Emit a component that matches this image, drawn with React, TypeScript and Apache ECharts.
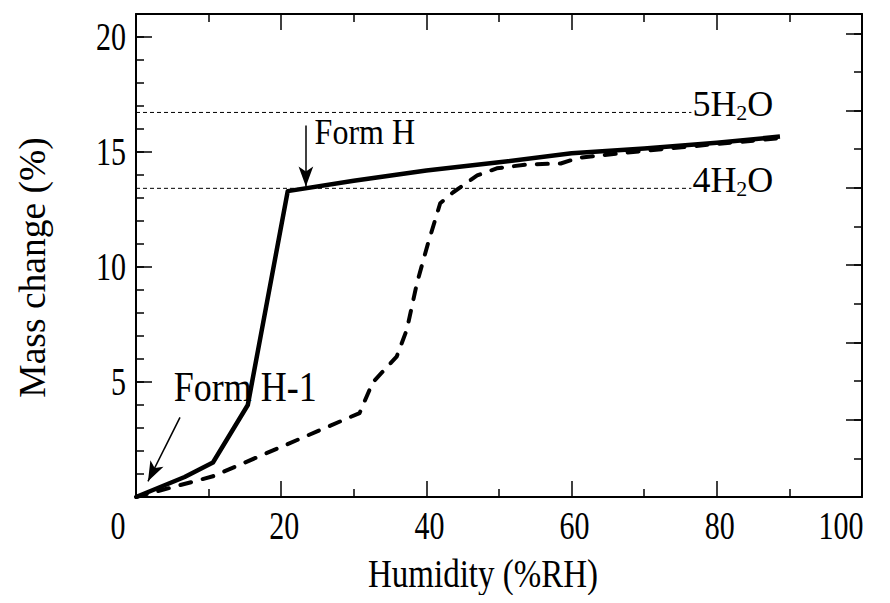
import React, { useEffect, useRef } from "react";
import * as echarts from "echarts";

// Solid curve (Form H-1 -> Form H)
const solidX = [0, 6.7, 10.6, 15.4, 20.9, 30, 40, 50, 60, 70, 80, 88.7];
const solidY = [0, 0.87, 1.5, 4.0, 13.3, 13.75, 14.2, 14.55, 14.95, 15.15, 15.4, 15.67];

// Dashed curve
const dashX = [0, 10.6, 30.8, 32.6, 35.9, 37.3, 38.7, 40.2, 41.9, 43.7, 47.0, 49.7, 53.9, 58.5, 61, 70, 80, 88.7];
const dashY = [0, 0.9, 3.65, 4.98, 6.1, 7.27, 9.3, 11.0, 12.77, 13.25, 13.98, 14.29, 14.46, 14.5, 14.75, 15.05, 15.35, 15.6];

// Hydrate reference levels (%)
const hydrateNames = ["5", "4"];
const hydrateLevels = [16.72, 13.42];
const hydrateLineEnd = 76.5;

// Axis ticks / labels
const xTicks = [0, 20, 40, 60, 80, 100];
const yTicks = [5, 10, 15, 20];
const yMax = 21;
const waterMax = 6.25;
const xName = "Humidity (%RH)";
const yName = "Mass change (%)";

// Annotations
const annoNames = ["Form H", "Form H-1"];
const annoPos = [[24.6, 15.9], [5.2, 4.8]];
const arrowFrom = [[23.4, 16.15], [6.06, 3.46]];
const arrowTo = [[23.4, 13.5], [1.65, 0.68]];

const FONT = "'Liberation Serif', 'Times New Roman', serif";

export default function App() {
  const ref = useRef<HTMLDivElement>(null);
  useEffect(() => {
    if (!ref.current) return;
    const chart = echarts.init(ref.current, null, { renderer: "svg" });
    const black = "#000";
    const solidData = solidX.map((x, i) => [x, solidY[i]]);
    const dashData = dashX.map((x, i) => [x, dashY[i]]);
    const tickStyle = { color: black, width: 1.5 };
    const baseX = {
      type: "value",
      min: xTicks[0],
      max: xTicks[xTicks.length - 1],
      interval: 20,
      splitLine: { show: false },
      minorSplitLine: { show: false },
      axisLine: { show: true, onZero: false, lineStyle: { color: black, width: 2 } },
      axisTick: { show: true, inside: true, length: 16, lineStyle: tickStyle },
      minorTick: { show: true, splitNumber: 2, length: 8, lineStyle: tickStyle },
      axisLabel: { show: false },
    };
    const yAx = (pos: string, max: number, interval: number, len: number, line: boolean) => ({
      type: "value",
      position: pos,
      min: 0,
      max,
      interval,
      splitLine: { show: false },
      axisLine: { show: line, onZero: false, lineStyle: { color: black, width: 2 } },
      axisTick: { show: true, inside: true, length: len, lineStyle: tickStyle },
      axisLabel: { show: false },
    });
    const option: any = {
      animation: false,
      textStyle: { fontFamily: FONT },
      grid: { left: 136, right: 28, top: 14, bottom: 106, containLabel: false },
      xAxis: [
        { ...baseX, position: "bottom" },
        { ...baseX, position: "top" },
      ],
      yAxis: [
        yAx("left", yMax, 5, 16, true),
        yAx("left", yMax, 1, 8, false),
        yAx("right", waterMax, 1, 16, true),
        yAx("right", waterMax, 0.5, 8, false),
      ],
      series: [
        ...hydrateLevels.map((lvl) => ({
          type: "line",
          xAxisIndex: 0,
          yAxisIndex: 0,
          data: [[0, lvl], [hydrateLineEnd, lvl]],
          showSymbol: false,
          symbol: "none",
          silent: true,
          lineStyle: { color: black, width: 1, type: [4, 3] },
        })),
        {
          type: "line",
          xAxisIndex: 0,
          yAxisIndex: 0,
          data: dashData,
          showSymbol: false,
          symbol: "none",
          lineStyle: { color: black, width: 4, type: [11, 12], cap: "round", join: "round" },
        },
        {
          type: "line",
          xAxisIndex: 0,
          yAxisIndex: 0,
          data: solidData,
          showSymbol: false,
          symbol: "none",
          lineStyle: { color: black, width: 4.5, join: "round" },
          markLine: {
            silent: true,
            symbol: ["none", "arrow"],
            symbolSize: [11, 20],
            label: { show: false },
            lineStyle: { color: black, width: 1.5, type: "solid" },
            data: arrowFrom.map((f, i) => [{ coord: f }, { coord: arrowTo[i] }]),
          },
        },
      ],
    };
    chart.setOption(option);

    // Text (real text) positioned through the chart's own scales
    const txt = (
      text: string,
      x: number,
      y: number,
      size: number,
      sy: number,
      align: string,
      valign: string,
      extra: any = {}
    ) => ({
      type: "text",
      x,
      y,
      scaleY: sy,
      silent: true,
      z: 100,
      ...extra,
      style: {
        text,
        fontFamily: FONT,
        fontSize: size,
        fill: black,
        align,
        verticalAlign: valign,
        textAlign: align,
        textVerticalAlign: valign,
      },
    });
    const px = (v: number) => chart.convertToPixel({ xAxisIndex: 0 }, v) as number;
    const py = (v: number) => chart.convertToPixel({ yAxisIndex: 0 }, v) as number;
    const bottom = py(0);
    const left = px(0);
    const right = px(100);
    const top = py(yMax);
    const xNudge: Record<number, number> = { 0: -18, 100: -21 };
    const els: any[] = [];
    xTicks.forEach((v) => {
      els.push(txt(String(v), px(v) + (xNudge[v] || 0) + (v > 0 && v < 100 ? 3 : 0), bottom + 29, 30, 1.3, "center", "middle"));
    });
    yTicks.forEach((v) => {
      els.push(txt(String(v), left - 10, py(v), 30, 1.3, "right", "middle"));
    });
    els.push(txt(xName, (left + right) / 2 - 16, bottom + 77, 33, 1.2, "center", "middle"));
    els.push(
      txt(yName, left - 104, (top + bottom) / 2 + 12, 37.5, 1, "center", "middle", { rotation: Math.PI / 2 })
    );
    const annoSizes = [32, 36];
    annoNames.forEach((n, i) => {
      const [ax, ay] = chart.convertToPixel({ gridIndex: 0 }, annoPos[i]) as number[];
      els.push(txt(n, ax, ay, annoSizes[i], 1.15, "left", "middle"));
    });
    hydrateLevels.forEach((lvl, i) => {
      const [hx, hy] = chart.convertToPixel({ gridIndex: 0 }, [hydrateLineEnd, lvl]) as number[];
      els.push({
        type: "text",
        x: hx + 1,
        y: hy - 8,
        silent: true,
        z: 100,
        style: {
          text: `{a|${hydrateNames[i]}H}{b|2}{a|O}`,
          align: "left",
          verticalAlign: "middle",
          textAlign: "left",
          textVerticalAlign: "middle",
          fill: black,
          rich: {
            a: { fontFamily: FONT, fontSize: 36, fill: black, color: black },
            b: { fontFamily: FONT, fontSize: 22, fill: black, color: black, padding: [16, 0, 0, 0] },
          },
        },
      });
    });
    chart.setOption({ graphic: { elements: els } });
    return () => chart.dispose();
  }, []);
  return <div ref={ref} style={{ width: 890, height: 603, margin: -8 }} />;
}
